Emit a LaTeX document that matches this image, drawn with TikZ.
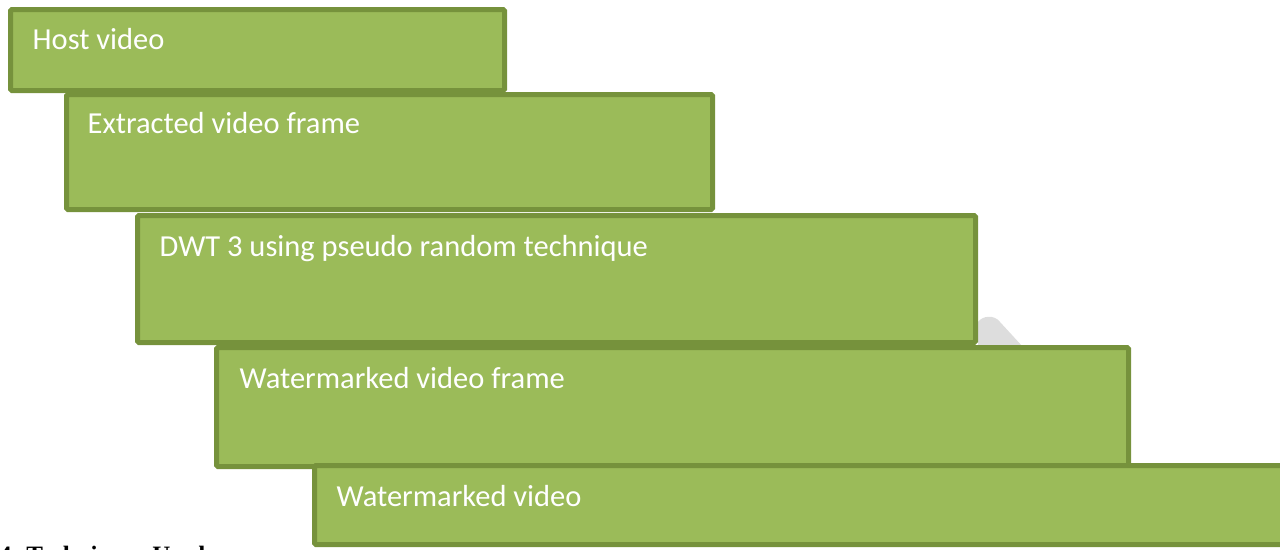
\documentclass[tikz,border=0pt]{standalone}
\usepackage{fontspec}
\setmainfont{Liberation Serif}
\newfontfamily\boxfont{Carlito}
\definecolor{stepfill}{HTML}{9BBB59}
\definecolor{stepline}{HTML}{76923C}
\definecolor{arrowgray}{HTML}{DDDDDD}
\tikzset{
  stepbox/.style={draw=stepline,fill=stepfill,line width=5pt,rounded corners=1.5pt,
    anchor=north west,inner sep=0pt,outer sep=0pt},
  steptext/.style={anchor=base west,text=white,inner sep=0pt,
    font=\boxfont\fontsize{30.5pt}{35pt}\selectfont}
}
\begin{document}
\begin{tikzpicture}[x=1pt,y=-1pt]
\useasboundingbox (0,0) rectangle (1280,549);
\clip (0,0) rectangle (1280,549);

% gray arrow behind the steps
\fill[arrowgray] (978,322) .. controls (982,316) and (994,314) .. (1000,322) -- (1023,347) -- (978,347) -- cycle;

\begin{scope}[every node/.style={stepbox}]
    \node[minimum width=494pt,minimum height=81pt] (host) at (10.5,9.5) {};
    \node[minimum width=646pt,minimum height=115pt] (frame) at (66.5,94.5) {};
    \node[minimum width=838pt,minimum height=127pt] (dwt) at (137.5,215.5) {};
    \node[minimum width=912pt,minimum height=119pt] (wmframe) at (216.5,347.5) {};
    \node[minimum width=980pt,minimum height=79pt] (wmvideo) at (314.5,465.5) {};
\end{scope}

\begin{scope}[every node/.style={steptext}]
    \node (hostlbl) at ([xshift=22pt,yshift=-40pt]host.north west) {Host video};
    \node (framelbl) at ([xshift=21pt,yshift=-39pt]frame.north west) {Extracted video frame};
    \node (dwtlbl) at ([xshift=22pt,yshift=-41pt]dwt.north west) {DWT 3 using pseudo random technique};
    \node (wmframelbl) at ([xshift=23pt,yshift=-41pt]wmframe.north west) {Watermarked video frame};
    \node (wmvideolbl) at ([xshift=22pt,yshift=-41pt]wmvideo.north west) {Watermarked video};
\end{scope}

\node[anchor=base west,inner sep=0pt,font=\bfseries\fontsize{25pt}{30pt}\selectfont] (heading) at (-1,563) {4. Techniques Used};
\end{tikzpicture}
\end{document}
